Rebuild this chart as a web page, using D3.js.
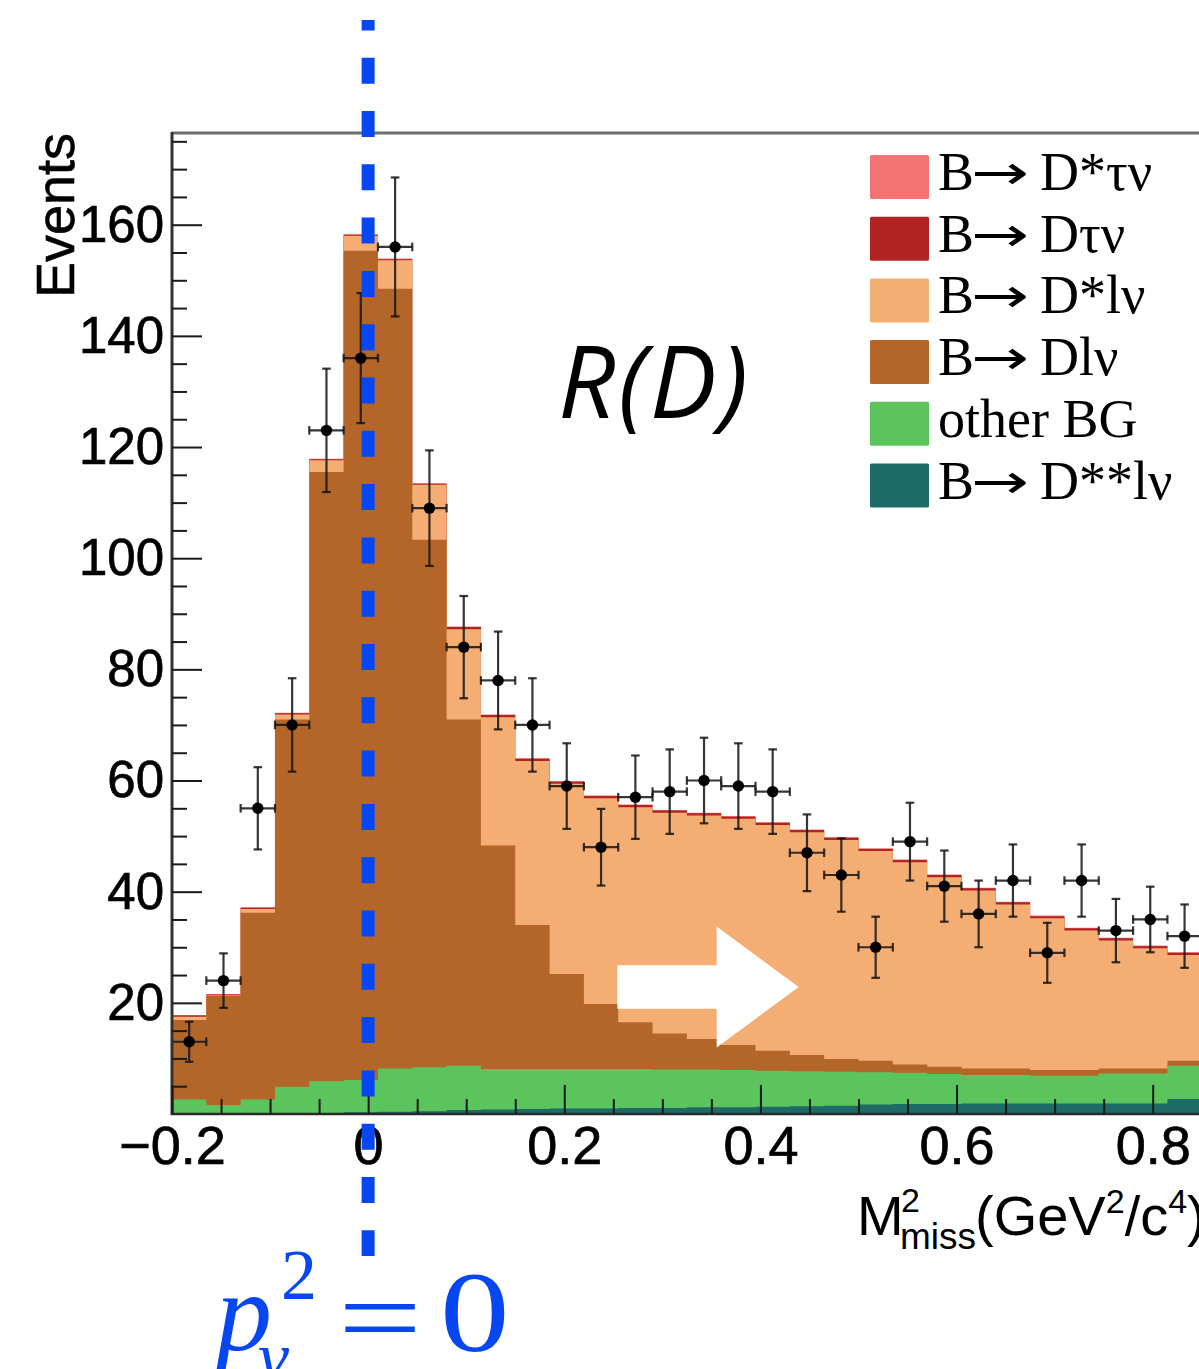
<!DOCTYPE html>
<html>
<head>
<meta charset="utf-8">
<script src="https://cdn.jsdelivr.net/npm/d3@7"></script>
<style>
  body { margin: 0; background: #fff; }
  svg { display: block; }
</style>
</head>
<body>
<script>
// Missing-mass-squared histogram for the R(D) sample: stacked fit components with data points.

const binWidth = 0.035;
const binCenters = [-0.1825, -0.1475, -0.1125, -0.0775, -0.0425, -0.0075, 0.0275, 0.0625, 0.0975, 0.1325,
                    0.1675, 0.2025, 0.2375, 0.2725, 0.3075, 0.3425, 0.3775, 0.4125, 0.4475, 0.4825,
                    0.5175, 0.5525, 0.5875, 0.6225, 0.6575, 0.6925, 0.7275, 0.7625, 0.7975, 0.8325];

// Observed events and their uncertainties
const observed    = [13, 24, 55, 70, 123, 136, 156, 109, 84, 78, 70, 59, 48, 57, 58, 60, 59, 58, 47, 43,
                     30, 49, 41, 36, 42, 29, 42, 33, 35, 32];
const observedErr = [3.6, 4.9, 7.4, 8.4, 11.1, 11.7, 12.5, 10.4, 9.2, 8.8, 8.4, 7.7, 6.9, 7.5, 7.6, 7.7, 7.7, 7.6, 6.9, 6.6,
                     5.5, 7.0, 6.4, 6.0, 6.5, 5.4, 6.5, 5.7, 5.9, 5.7];

// Fit components, bottom of the stack first
const dStarStarLnu = [0.1, 0.1, 0.1, 0.2, 0.2, 0.3, 0.4, 0.5, 0.7, 0.8, 0.9, 1.0, 1.0, 1.1, 1.1, 1.2, 1.2, 1.3, 1.4, 1.5,
                      1.7, 1.8, 1.8, 1.9, 1.9, 1.9, 1.9, 1.9, 1.9, 2.7];
const otherBG      = [2.5, 1.5, 2.5, 4.7, 5.7, 5.8, 7.8, 7.9, 8.0, 7.3, 7.2, 7.1, 7.1, 7.0, 6.9, 6.8, 6.7, 6.5, 6.3, 6.1,
                      5.8, 5.6, 5.4, 5.1, 5.1, 5.0, 5.0, 5.4, 5.4, 6.0];
const dLnu         = [14.3, 19.7, 33.6, 66.1, 109.6, 149.2, 140.3, 94.9, 62.3, 40.2, 25.9, 17.1, 11.7, 8.4, 6.5, 5.5, 4.5, 3.6, 2.9, 2.3,
                      2.1, 1.5, 1.3, 1.2, 1.2, 1.0, 1.0, 0.9, 0.9, 0.9];
const dStarLnu     = [0.6, 0.1, 0.7, 0.9, 2.1, 2.7, 5.1, 9.9, 16.2, 23.1, 29.5, 34.2, 37.0, 38.7, 39.7, 40.2, 40.7, 40.6, 40.1, 39.4,
                      37.7, 36.4, 34.1, 32.0, 29.5, 27.3, 25.1, 23.0, 21.6, 19.0];
const dTauNu       = [0.2, 0.1, 0.2, 0.2, 0.2, 0.2, 0.2, 0.2, 0.4, 0.4, 0.4, 0.4, 0.4, 0.4, 0.4, 0.4, 0.4, 0.4, 0.4, 0.4,
                      0.4, 0.4, 0.4, 0.4, 0.4, 0.4, 0.4, 0.4, 0.4, 0.4];
const dStarTauNu   = [0.1, 0.1, 0.1, 0.1, 0.1, 0.1, 0.1, 0.1, 0.1, 0.1, 0.1, 0.1, 0.1, 0.1, 0.1, 0.1, 0.1, 0.1, 0.1, 0.1,
                      0.1, 0.1, 0.1, 0.1, 0.1, 0.1, 0.1, 0.1, 0.1, 0.1];

const componentKeys   = ["dStarStarLnu", "otherBG", "dLnu", "dStarLnu", "dTauNu", "dStarTauNu"];
const componentValues = { dStarStarLnu, otherBG, dLnu, dStarLnu, dTauNu, dStarTauNu };
const componentColors = { dStarTauNu: "#f47474", dTauNu: "#b22424", dStarLnu: "#f4ad73",
                          dLnu: "#b36628", otherBG: "#5cc45c", dStarStarLnu: "#1b6b67" };

// Legend entries, top to bottom
const legendKeys   = ["dStarTauNu", "dTauNu", "dStarLnu", "dLnu", "otherBG", "dStarStarLnu"];
const legendLabels = ["B\u2192 D*\u03c4\u03bd", "B\u2192 D\u03c4\u03bd", "B\u2192 D*l\u03bd", "B\u2192 Dl\u03bd", "other BG", "B\u2192 D**l\u03bd"];

const yMajorTicks = [20, 40, 60, 80, 100, 120, 140, 160];
const xMajorTicks = [-0.2, 0, 0.2, 0.4, 0.6, 0.8];

const W = 1199, H = 1369;
const svg = d3.select("body").append("svg").attr("width", W).attr("height", H)
  .style("background", "#fff");

const x = d3.scaleLinear().domain([-0.2, 0.8]).range([172, 1152.7]);
const y = d3.scaleLinear().domain([0, 176.5]).range([1114, 133]);
const plotRight = W + 10;

// ---- stacked histogram ----
const rows = binCenters.map((c, i) => {
  const r = { center: c };
  componentKeys.forEach(k => r[k] = componentValues[k][i]);
  return r;
});
const stacked = d3.stack().keys(componentKeys)(rows);

const area = d3.area().x(d => d.x).y0(d => d.y0).y1(d => d.y1);
const histG = svg.append("g");
// draw from the top of the stack downwards, each filled to the baseline
stacked.slice().reverse().forEach(layer => {
  const pts = [];
  layer.forEach((d, i) => {
    const lo = x(binCenters[i] - binWidth / 2), hi = x(binCenters[i] + binWidth / 2);
    pts.push({ x: lo, y0: y(0), y1: y(d[1]) }, { x: hi, y0: y(0), y1: y(d[1]) });
  });
  histG.append("path").attr("d", area(pts)).attr("fill", componentColors[layer.key]);
});

// ---- white arrow annotation ----
const arrowTail = 0.2541, arrowNeck = 0.3554, arrowTip = 0.439;
const arrowMid = 22.85, shaftHalf = 3.9, headHalf = 10.9;
svg.append("polygon")
  .attr("points", [
    [x(arrowTail), y(arrowMid + shaftHalf)], [x(arrowNeck), y(arrowMid + shaftHalf)],
    [x(arrowNeck), y(arrowMid + headHalf)], [x(arrowTip), y(arrowMid)],
    [x(arrowNeck), y(arrowMid - headHalf)], [x(arrowNeck), y(arrowMid - shaftHalf)],
    [x(arrowTail), y(arrowMid - shaftHalf)]
  ].map(p => p.join(",")).join(" "))
  .attr("fill", "#fff");

// ---- data points with error bars ----
const dataG = svg.append("g").attr("stroke", "#141414").attr("stroke-opacity", 0.85).attr("stroke-width", 2.2);
const cap = 4.3;
binCenters.forEach((c, i) => {
  const cx = x(c), cy = y(observed[i]);
  const lo = x(c - binWidth / 2), hi = x(c + binWidth / 2);
  const top = y(observed[i] + observedErr[i]), bot = y(observed[i] - observedErr[i]);
  dataG.append("line").attr("x1", lo).attr("x2", hi).attr("y1", cy).attr("y2", cy);
  dataG.append("line").attr("x1", lo).attr("x2", lo).attr("y1", cy - cap).attr("y2", cy + cap);
  dataG.append("line").attr("x1", hi).attr("x2", hi).attr("y1", cy - cap).attr("y2", cy + cap);
  dataG.append("line").attr("x1", cx).attr("x2", cx).attr("y1", top).attr("y2", bot);
  dataG.append("line").attr("x1", cx - cap).attr("x2", cx + cap).attr("y1", top).attr("y2", top);
  dataG.append("line").attr("x1", cx - cap).attr("x2", cx + cap).attr("y1", bot).attr("y2", bot);
});
svg.append("g").selectAll("circle").data(binCenters).join("circle")
  .attr("cx", d => x(d)).attr("cy", (d, i) => y(observed[i])).attr("r", 5.7).attr("fill", "#000");

// ---- frame and axes ----
const frame = svg.append("g");
frame.append("line").attr("x1", 172).attr("x2", plotRight).attr("y1", 133).attr("y2", 133)
  .attr("stroke", "#6e6e6e").attr("stroke-width", 3);
frame.append("line").attr("x1", 172).attr("x2", 172).attr("y1", 132).attr("y2", 1115)
  .attr("stroke", "#333").attr("stroke-width", 3);
frame.append("line").attr("x1", 171).attr("x2", plotRight).attr("y1", 1114).attr("y2", 1114)
  .attr("stroke", "#2a2a2a").attr("stroke-width", 2.5);

function styleAxis(g) {
  g.select(".domain").remove();
  g.selectAll(".tick line").attr("stroke", "#1a1a1a").attr("stroke-width", 2);
  g.selectAll(".tick text").attr("fill", "#000").attr("font-family", "'Liberation Sans', Arial, sans-serif")
    .attr("stroke", "#000").attr("stroke-width", 0.7);
}

const yMinorTicks = d3.range(5, 176, 5).filter(v => !yMajorTicks.includes(v));
svg.append("g").attr("transform", "translate(172,0)")
  .call(d3.axisLeft(y).tickValues(yMinorTicks).tickSizeInner(-15).tickSizeOuter(0).tickFormat(""))
  .call(styleAxis);
svg.append("g").attr("transform", "translate(172,0)")
  .call(d3.axisLeft(y).tickValues(yMajorTicks).tickSizeInner(-30).tickSizeOuter(0).tickPadding(8).tickFormat(d3.format("d")))
  .call(styleAxis)
  .call(g => g.selectAll(".tick text").attr("font-size", 51));

const xMinorTicks = d3.range(-4, 18).map(k => k * 0.05).filter(v => !xMajorTicks.some(t => Math.abs(t - v) < 1e-9));
svg.append("g").attr("transform", "translate(0,1114)")
  .call(d3.axisBottom(x).tickValues(xMinorTicks).tickSizeInner(-15).tickSizeOuter(0).tickFormat(""))
  .call(styleAxis);
svg.append("g").attr("transform", "translate(0,1114)")
  .call(d3.axisBottom(x).tickValues(xMajorTicks).tickSizeInner(-29).tickSizeOuter(0).tickPadding(12)
    .tickFormat(d => d === 0 ? "0" : (d < 0 ? "\u2212" : "") + Math.abs(d).toFixed(1)))
  .call(styleAxis)
  .call(g => g.selectAll(".tick text").attr("font-size", 54));

// axis titles
svg.append("text").attr("transform", "translate(74,133) rotate(-90)")
  .attr("text-anchor", "end").attr("font-family", "'Liberation Sans', Arial, sans-serif")
  .attr("font-size", 54).attr("fill", "#000").attr("stroke", "#000").attr("stroke-width", 0.6)
  .text("Events");

const xTitle = svg.append("g").attr("font-family", "'Liberation Sans', Arial, sans-serif").attr("fill", "#000");
xTitle.append("text").attr("x", 857).attr("y", 1235).attr("font-size", 56).text("M");
xTitle.append("text").attr("x", 901).attr("y", 1212).attr("font-size", 34).text("2");
xTitle.append("text").attr("x", 900).attr("y", 1249).attr("font-size", 37).text("miss");
const unitT = xTitle.append("text").attr("x", 975).attr("y", 1235).attr("font-size", 56);
unitT.append("tspan").text("(GeV");
unitT.append("tspan").attr("font-size", 34).attr("dy", -22).text("2");
unitT.append("tspan").attr("dy", 22).text("/c");
unitT.append("tspan").attr("font-size", 34).attr("dy", -22).text("4");
unitT.append("tspan").attr("dy", 22).text(")");

// ---- legend ----
const legend = svg.append("g");
const serif = "'Liberation Serif', 'Times New Roman', serif";
legendKeys.forEach((k, i) => {
  const top = 155 + i * 61.7, base = top + 35;
  legend.append("rect").attr("x", 870).attr("y", top).attr("width", 59).attr("height", 44)
    .attr("rx", 1.5).attr("fill", componentColors[k]);
  const label = legendLabels[i];
  if (label.startsWith("B\u2192 ")) {
    // "B", a long arrow, then the final state
    const b = legend.append("text").attr("x", 938).attr("y", base)
      .attr("font-family", serif).attr("font-size", 54).attr("fill", "#000").text("B");
    const bw = b.node().getComputedTextLength();
    legend.append("text").attr("x", 938 + bw - 3).attr("y", base - 1)
      .attr("font-family", "'DejaVu Sans', sans-serif").attr("font-size", 48).attr("fill", "#000")
      .attr("textLength", 58).attr("lengthAdjust", "spacingAndGlyphs").text("\u2192");
    legend.append("text").attr("x", 1040).attr("y", base)
      .attr("font-family", serif).attr("font-size", 54).attr("fill", "#000").text(label.slice(3));
  } else {
    legend.append("text").attr("x", 938).attr("y", base)
      .attr("font-family", serif).attr("font-size", 54).attr("fill", "#000").text(label);
  }
});

// ---- R(D) label ----
svg.append("text").attr("x", 558).attr("y", 418)
  .attr("font-family", "'Open Sans', sans-serif").attr("font-style", "italic").attr("font-size", 100)
  .attr("textLength", 190).attr("lengthAdjust", "spacing")
  .attr("fill", "#000").text("R(D)");

// ---- p_nu^2 = 0 marker ----
const blue = "#0747f2";
svg.append("line").attr("x1", x(0)).attr("x2", x(0)).attr("y1", 20).attr("y2", 1256)
  .attr("stroke", blue).attr("stroke-width", 13)
  .attr("stroke-dasharray", "26 27.3").attr("stroke-dashoffset", 15.6);

const pLabel = svg.append("g").attr("fill", blue).attr("font-family", serif);
pLabel.append("text").attr("x", 216).attr("y", 1350).attr("font-size", 112).attr("font-style", "italic").text("p");
pLabel.append("text").attr("x", 258).attr("y", 1380).attr("font-size", 70).attr("font-style", "italic").text("\u03bd");
pLabel.append("text").attr("x", 281).attr("y", 1299).attr("font-size", 72).text("2");
pLabel.append("text").attr("x", 338).attr("y", 1355).attr("font-size", 112)
  .attr("textLength", 84).attr("lengthAdjust", "spacingAndGlyphs").text("=");
pLabel.append("text").attr("transform", "translate(440,1351) scale(1.22,1)").attr("font-size", 114).text("0");
</script>
</body>
</html>
